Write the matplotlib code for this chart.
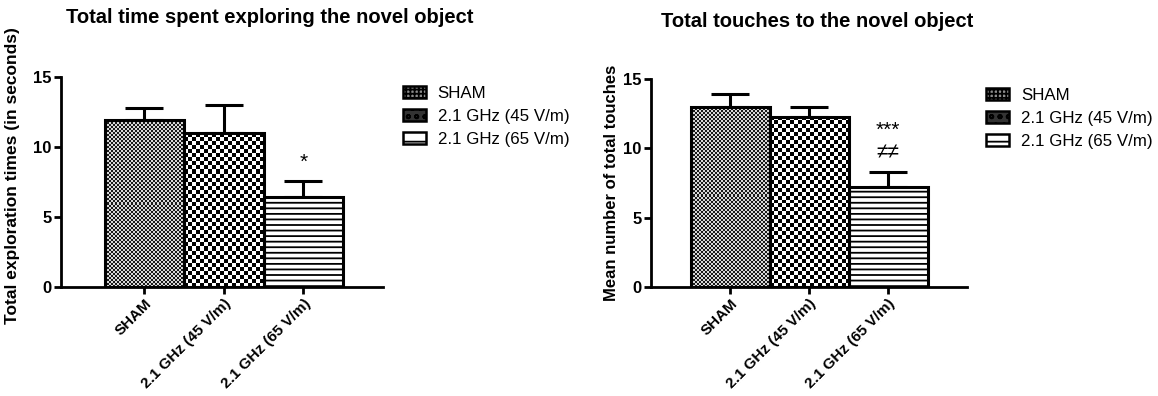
import matplotlib.pyplot as plt
import matplotlib.patches as mpatches
import numpy as np

plt.rcParams['font.family'] = ['Liberation Sans', 'DejaVu Sans']
plt.rcParams['hatch.linewidth'] = 1.3

groups = ['SHAM', '2.1 GHz (45 V/m)', '2.1 GHz (65 V/m)']

time_means = [11.9, 11.0, 6.4]
time_sems = [0.9, 2.0, 1.2]
time_marks = ['', '', '*']

touch_means = [13.0, 12.3, 7.2]
touch_sems = [0.9, 0.7, 1.1]
touch_marks = ['', '', '***\n≠≠']

yticks = [0, 5, 10, 15]


def checker(ax, bar, cell, dark, light):
    # fill a bar with a checkerboard image clipped to the bar
    x0, y0 = bar.get_x(), bar.get_y()
    x1, y1 = x0 + bar.get_width(), y0 + bar.get_height()
    p0 = ax.transData.transform((x0, y0))
    p1 = ax.transData.transform((x1, y1))
    nx = max(1, int(round(abs(p1[0] - p0[0]) / cell)))
    ny = max(1, int(round(abs(p1[1] - p0[1]) / cell)))
    ii, jj = np.indices((ny, nx))
    img = np.zeros((ny, nx, 3))
    mask = (ii + jj) % 2 == 0
    img[mask] = dark
    img[~mask] = light
    im = ax.imshow(img, extent=(x0, x1, y0, y1), aspect='auto',
                   interpolation='nearest', zorder=2.5, origin='lower')
    im.set_clip_path(bar)


def panel(ax, means, sems, marks, ylabel, xlim):
    x = np.arange(len(groups))
    ax.set_xlim(*xlim)
    ax.set_ylim(0, 15)
    bars = ax.bar(x, means, width=1.0, color='none', edgecolor='black',
                  linewidth=2.2, zorder=3)
    bars[2].set_facecolor('white')
    bars[2].set_hatch('---')
    bars[2].set_zorder(2.6)
    checker(ax, bars[0], 2, (0.1, 0.1, 0.1), (0.85, 0.85, 0.85))
    checker(ax, bars[1], 4, (0, 0, 0), (1, 1, 1))
    ax.errorbar(x, means, yerr=[np.zeros(len(x)), sems], fmt='none',
                ecolor='black', elinewidth=2.2, capsize=14, capthick=2.2,
                zorder=2)
    for xi, m, s, t in zip(x, means, sems, marks):
        if t:
            ax.text(xi, m + s + 0.65, t, ha='center', va='bottom',
                    fontsize=15, linespacing=1.3)
    ax.set_xlim(*xlim)
    ax.set_ylim(0, 15)
    ax.set_yticks(yticks)
    ax.set_xticks(x)
    ax.set_xticklabels(groups, rotation=45, ha='right', rotation_mode='anchor',
                       fontsize=11, fontweight='bold')
    for lab in ax.get_yticklabels():
        lab.set_fontweight('bold')
        lab.set_fontsize(12)
    ax.tick_params(width=2, length=5, pad=2)
    for side in ['top', 'right']:
        ax.spines[side].set_visible(False)
    for side in ['left', 'bottom']:
        ax.spines[side].set_linewidth(2)
    ax.set_ylabel(ylabel, fontsize=12, fontweight='bold')


fig = plt.figure(figsize=(11.58, 3.96), dpi=100)
ax1 = fig.add_axes([0.0527, 0.2753, 0.278, 0.530])
ax2 = fig.add_axes([0.5622, 0.2753, 0.2729, 0.525])

panel(ax1, time_means, time_sems, time_marks,
      'Total exploration times (in seconds)', (-1.05, 3.0))
panel(ax2, touch_means, touch_sems, touch_marks,
      'Mean number of total touches', (-1.0, 3.0))
ax1.yaxis.label.set_fontsize(12.5)
ax1.yaxis.set_label_coords(-0.127, 0.53)
ax2.yaxis.set_label_coords(-0.10, 0.50)

fig.text(0.233, 0.957, 'Total time spent exploring the novel object',
         ha='center', va='center', fontsize=14.5, fontweight='bold')
fig.text(0.706, 0.945, 'Total touches to the novel object',
         ha='center', va='center', fontsize=14.5, fontweight='bold')

handles = [
    mpatches.Patch(facecolor='#8c8c8c', edgecolor='black', hatch='++++',
                   linewidth=1.8, label=groups[0]),
    mpatches.Patch(facecolor='#333333', edgecolor='black', hatch='oo',
                   linewidth=1.8, label=groups[1]),
    mpatches.Patch(facecolor='white', edgecolor='black', hatch='-',
                   linewidth=1.8, label=groups[2]),
]
for anchor in [(0.342, 0.80), (0.846, 0.795)]:
    fig.legend(handles=handles, loc='upper left', bbox_to_anchor=anchor,
               frameon=False, fontsize=12.2, handlelength=1.35,
               handleheight=0.7, handletextpad=0.7, labelspacing=0.48,
               borderaxespad=0)

fig.savefig('out.png', dpi=100, facecolor='white')
